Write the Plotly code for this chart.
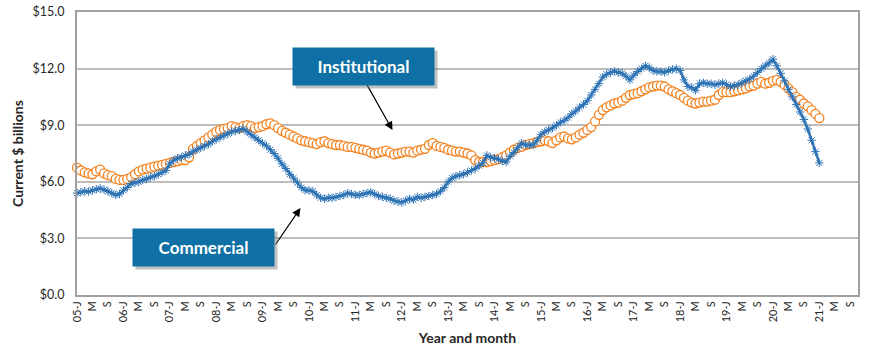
import plotly.graph_objects as go

# Monthly values, Jan 2005 .. Jan 2021 (current $ billions)
commercial = [
    5.40, 5.45, 5.50, 5.48, 5.55, 5.60, 5.65, 5.58, 5.50, 5.40, 5.30, 5.35,   # 2005
    5.55, 5.70, 5.90, 5.95, 6.00, 6.10, 6.15, 6.25, 6.30, 6.40, 6.50, 6.60,   # 2006
    6.95, 7.15, 7.25, 7.30, 7.40, 7.45, 7.60, 7.70, 7.80, 7.90, 8.00, 8.15,   # 2007
    8.25, 8.35, 8.45, 8.55, 8.65, 8.70, 8.75, 8.80, 8.65, 8.50, 8.35, 8.20,   # 2008
    8.05, 7.90, 7.70, 7.50, 7.25, 6.95, 6.70, 6.40, 6.20, 5.95, 5.70, 5.55,   # 2009
    5.55, 5.50, 5.30, 5.15, 5.10, 5.15, 5.15, 5.20, 5.25, 5.30, 5.40, 5.35,   # 2010
    5.30, 5.30, 5.35, 5.40, 5.45, 5.35, 5.25, 5.20, 5.15, 5.10, 5.00, 4.95,   # 2011
    4.90, 5.00, 5.10, 5.05, 5.20, 5.15, 5.20, 5.25, 5.30, 5.35, 5.50, 5.70,   # 2012
    6.00, 6.20, 6.30, 6.35, 6.40, 6.50, 6.60, 6.70, 6.85, 7.00, 7.40, 7.30,   # 2013
    7.25, 7.20, 7.10, 7.05, 7.35, 7.55, 7.80, 8.05, 7.95, 7.95, 7.95, 8.20,   # 2014
    8.50, 8.65, 8.75, 8.85, 9.00, 9.15, 9.25, 9.40, 9.60, 9.75, 9.95, 10.10,  # 2015
    10.30, 10.60, 10.90, 11.20, 11.55, 11.70, 11.80, 11.85, 11.80, 11.75, 11.60, 11.40,  # 2016
    11.65, 11.85, 12.00, 12.15, 12.05, 11.90, 11.85, 11.85, 11.80, 11.90, 11.95, 12.00,  # 2017
    11.90, 11.40, 11.05, 11.00, 10.85, 11.20, 11.25, 11.20, 11.20, 11.15, 11.20, 11.25,  # 2018
    11.15, 11.05, 11.10, 11.15, 11.25, 11.35, 11.45, 11.60, 11.80, 12.00, 12.15, 12.30,  # 2019
    12.50, 12.15, 11.75, 11.35, 10.90, 10.50, 10.10, 9.70, 9.30, 8.80, 8.20, 7.60,      # 2020
    7.00,                                                                               # 2021
]

institutional = [
    6.75, 6.60, 6.50, 6.45, 6.40, 6.55, 6.65, 6.45, 6.35, 6.30, 6.15, 6.10,   # 2005
    6.10, 6.15, 6.25, 6.40, 6.55, 6.65, 6.70, 6.75, 6.80, 6.85, 6.90, 6.95,   # 2006
    7.00, 7.05, 7.10, 7.15, 7.15, 7.30, 7.75, 7.90, 8.05, 8.20, 8.35, 8.50,   # 2007
    8.65, 8.75, 8.80, 8.85, 8.95, 8.90, 8.85, 8.95, 9.00, 8.95, 8.85, 8.90,   # 2008
    8.95, 9.05, 9.10, 9.00, 8.85, 8.70, 8.60, 8.50, 8.40, 8.30, 8.20, 8.15,   # 2009
    8.10, 8.05, 8.00, 8.10, 8.15, 8.05, 8.00, 7.95, 7.95, 7.90, 7.85, 7.85,   # 2010
    7.80, 7.75, 7.70, 7.65, 7.55, 7.50, 7.55, 7.60, 7.65, 7.55, 7.45, 7.50,   # 2011
    7.55, 7.60, 7.60, 7.55, 7.65, 7.70, 7.75, 7.95, 8.05, 7.90, 7.85, 7.80,   # 2012
    7.70, 7.65, 7.60, 7.60, 7.55, 7.50, 7.40, 7.15, 7.05, 7.05, 7.05, 7.10,   # 2013
    7.15, 7.20, 7.30, 7.40, 7.55, 7.70, 7.80, 7.85, 7.95, 8.00, 8.05, 8.10,   # 2014
    8.15, 8.20, 8.15, 8.05, 8.20, 8.35, 8.40, 8.30, 8.25, 8.35, 8.50, 8.60,   # 2015
    8.75, 8.90, 9.20, 9.55, 9.80, 9.95, 10.05, 10.15, 10.20, 10.30, 10.45, 10.60,  # 2016
    10.65, 10.70, 10.80, 10.90, 11.00, 11.05, 11.10, 11.10, 11.05, 10.90, 10.80, 10.70,  # 2017
    10.60, 10.45, 10.30, 10.20, 10.15, 10.20, 10.25, 10.25, 10.30, 10.35, 10.60, 10.75,  # 2018
    10.75, 10.75, 10.80, 10.85, 10.90, 10.95, 11.05, 11.10, 11.20, 11.30, 11.20, 11.25,  # 2019
    11.35, 11.40, 11.30, 11.15, 10.95, 10.75, 10.50, 10.35, 10.15, 10.00, 9.80, 9.60,   # 2020
    9.38,                                                                               # 2021
]

start_year = 2005
last_year = 2021
month_letters = {0: "J", 4: "M", 8: "S"}

months = list(range(len(commercial)))
tick_vals = []
tick_text = []
for m in range(0, (last_year - start_year) * 12 + 9, 4):
    k = m % 12
    if k == 0:
        tick_text.append(f"{(start_year + m // 12) % 100:02d}-J")
    else:
        tick_text.append(month_letters[k])
    tick_vals.append(m)

FONT = "Lato, 'Open Sans', sans-serif"
BOX = "#0E70A4"

fig = go.Figure()
fig.add_trace(go.Scatter(
    x=months, y=institutional, mode="lines+markers", name="Institutional",
    line=dict(color="#F5821F", width=1),
    marker=dict(symbol="circle", size=9, color="white",
                line=dict(color="#F5821F", width=1.3)),
    cliponaxis=False,
))
fig.add_trace(go.Scatter(
    x=months, y=commercial, mode="lines+markers", name="Commercial",
    line=dict(color="#2F74B5", width=2.5),
    marker=dict(symbol="asterisk-open", size=7,
                line=dict(color="#4A90D2", width=1)),
    cliponaxis=False,
))

def label_box(text, x, y):
    # shadow
    fig.add_annotation(x=x, y=y, xref="x", yref="y", text=" ",
                       showarrow=False, bgcolor="rgba(120,120,120,0.45)",
                       font=dict(size=17, family=FONT),
                       width=139, height=35, xshift=3, yshift=-3)
    fig.add_annotation(x=x, y=y, xref="x", yref="y", text=f"<b>{text}</b>",
                       showarrow=False, bgcolor=BOX,
                       font=dict(color="white", size=17, family=FONT),
                       width=139, height=35)

def arrow(x, y, ax, ay):
    fig.add_annotation(x=x, y=y, xref="x", yref="y", text="", showarrow=True,
                       ax=ax, ay=ay, axref="pixel", ayref="pixel",
                       arrowhead=2, arrowsize=1.4, arrowwidth=1.2,
                       arrowcolor="black", standoff=0)

arrow(81.6, 8.74, -27, -48)
arrow(57.8, 4.61, -26, 38)
label_box("Institutional", 74.0, 12.09)
label_box("Commercial", 32.8, 2.54)

fig.update_layout(
    width=870, height=358,
    margin=dict(l=77, r=12, t=12, b=63),
    paper_bgcolor="white", plot_bgcolor="white",
    showlegend=False,
    font=dict(family=FONT, color="#262626"),
    xaxis=dict(
        range=[0, 202], tickmode="array", tickvals=tick_vals, ticktext=tick_text,
        tickangle=-90, tickfont=dict(size=11, color="#262626"),
        showgrid=False, showline=True, linecolor="#A0A0A0", linewidth=2,
        mirror=True, ticks="", zeroline=False, automargin=False,
        title=dict(text="<b>Year and month</b>", font=dict(size=14), standoff=12),
    ),
    yaxis=dict(
        range=[0, 15], dtick=3, tickformat="$.1f",
        tickfont=dict(size=12.5, color="#262626"),
        showgrid=True, gridcolor="#BDBDBD", gridwidth=1.5,
        showline=True, linecolor="#A0A0A0", linewidth=2, mirror=True,
        ticks="", zeroline=False, ticklabelstandoff=8, automargin=False,
        ticklabeloverflow="allow",
        title=dict(text="<b>Current $ billions</b>", font=dict(size=14), standoff=6),
    ),
)

# remove the browser's default 8px body margin so the figure fills the window
fig.write_html("out.html", config={"displayModeBar": False},
               post_script="document.body.style.margin='0';document.body.style.overflow='hidden';")
